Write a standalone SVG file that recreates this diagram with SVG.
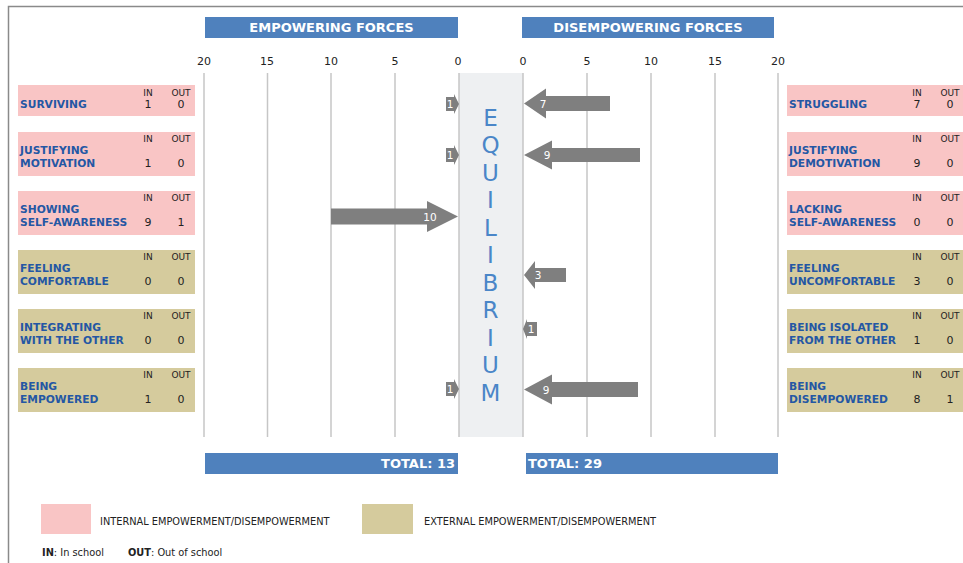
<svg xmlns="http://www.w3.org/2000/svg" width="963" height="563" viewBox="0 0 963 563">
<style>
  .lbl{font-family:"DejaVu Sans",Verdana,sans-serif;font-weight:bold;font-size:10.7px;fill:#2457a4}
  .hd{font-family:"DejaVu Sans",Tahoma,sans-serif;font-size:9px;fill:#222;text-anchor:middle}
  .val{font-family:"DejaVu Sans",Tahoma,sans-serif;font-size:11px;fill:#222;text-anchor:middle}
  .int{fill:#f9c5c5}
  .ext{fill:#d5cb9d}
  .bar{fill:#4f81bd}
  .bart{font-family:"DejaVu Sans",Verdana,sans-serif;font-weight:bold;font-size:13px;fill:#fff}
  .ax{font-family:"DejaVu Sans",Tahoma,sans-serif;font-size:11px;fill:#222;text-anchor:middle}
  .grid{stroke:#c6c6c6;stroke-width:1.5}
  .eq{font-family:"DejaVu Sans",Verdana,sans-serif;font-size:23px;fill:#4a86c8;text-anchor:middle}
  .arr{fill:#7f7f7f}
  .at{font-family:"DejaVu Sans",Tahoma,sans-serif;font-size:10.5px;fill:#fff;text-anchor:middle}
  .leg{font-family:"DejaVu Sans",Tahoma,sans-serif;font-size:9.8px;fill:#222}
</style>
<rect x="0" y="0" width="963" height="563" fill="#fff"/>
<path d="M8.5,563 V6.5 H963" fill="none" stroke="#8a8a8a" stroke-width="1.5"/>

<g id="headers">
  <rect class="bar" x="205" y="17" width="253" height="21"/>
  <text class="bart" x="331.5" y="32" text-anchor="middle">EMPOWERING FORCES</text>
  <rect class="bar" x="522" y="17" width="252" height="21"/>
  <text class="bart" x="648" y="32" text-anchor="middle">DISEMPOWERING FORCES</text>
</g>

<g id="axis">
  <text class="ax" x="204" y="65">20</text>
  <text class="ax" x="267" y="65">15</text>
  <text class="ax" x="331" y="65">10</text>
  <text class="ax" x="395" y="65">5</text>
  <text class="ax" x="458" y="65">0</text>
  <text class="ax" x="523" y="65">0</text>
  <text class="ax" x="587" y="65">5</text>
  <text class="ax" x="651" y="65">10</text>
  <text class="ax" x="715" y="65">15</text>
  <text class="ax" x="778" y="65">20</text>
</g>

<g id="equilibrium">
  <rect x="459" y="73" width="64" height="364" fill="#eef0f2"/>
  <text class="eq" x="490.5" y="125.5">E</text>
  <text class="eq" x="490.5" y="153">Q</text>
  <text class="eq" x="490.5" y="180.5">U</text>
  <text class="eq" x="490.5" y="208">I</text>
  <text class="eq" x="490.5" y="235.5">L</text>
  <text class="eq" x="490.5" y="263">I</text>
  <text class="eq" x="490.5" y="290.5">B</text>
  <text class="eq" x="490.5" y="318">R</text>
  <text class="eq" x="490.5" y="345.5">I</text>
  <text class="eq" x="490.5" y="373">U</text>
  <text class="eq" x="490.5" y="400.5">M</text>
</g>

<g id="grid">
  <line class="grid" x1="204" y1="73" x2="204" y2="437"/>
  <line class="grid" x1="267.5" y1="73" x2="267.5" y2="437"/>
  <line class="grid" x1="331" y1="73" x2="331" y2="437"/>
  <line class="grid" x1="395" y1="73" x2="395" y2="437"/>
  <line class="grid" x1="459" y1="73" x2="459" y2="437" stroke="#a8a8a8"/>
  <line class="grid" x1="523" y1="73" x2="523" y2="437" stroke="#a8a8a8"/>
  <line class="grid" x1="587" y1="73" x2="587" y2="437"/>
  <line class="grid" x1="651" y1="73" x2="651" y2="437"/>
  <line class="grid" x1="715" y1="73" x2="715" y2="437"/>
  <line class="grid" x1="778" y1="73" x2="778" y2="437"/>
</g>

<g id="connectors">
  <polygon class="arr" points="446,97 454,97 454,94 459,104 454,114 454,111 446,111"/>
  <text class="at" x="450" y="108">1</text>
  <polygon class="arr" points="446,148 454,148 454,145 459,155 454,165 454,162 446,162"/>
  <text class="at" x="450" y="159">1</text>
  <polygon class="arr" points="331,208.5 427,208.5 427,201 458,216.5 427,232 427,224.5 331,224.5"/>
  <text class="at" x="430" y="220.5">10</text>
  <polygon class="arr" points="446,382 454,382 454,379 459,389 454,399 454,396 446,396"/>
  <text class="at" x="450" y="393">1</text>

  <polygon class="arr" points="610,96 546,96 546,88.5 524,103.5 546,118.5 546,111 610,111"/>
  <text class="at" x="543" y="107.5">7</text>
  <polygon class="arr" points="640,148 552,148 552,140.5 524,155 552,169.5 552,162 640,162"/>
  <text class="at" x="547" y="159">9</text>
  <polygon class="arr" points="566,268 535,268 535,261 524,275 535,289 535,282 566,282"/>
  <text class="at" x="538" y="279">3</text>
  <polygon class="arr" points="537,322 527,322 527,319 523,329 527,339 527,336 537,336"/>
  <text class="at" x="531" y="333">1</text>
  <polygon class="arr" points="638,382 552,382 552,374.5 524,389.5 552,404.5 552,397 638,397"/>
  <text class="at" x="546" y="393.5">9</text>
</g>

<g id="totals">
  <rect class="bar" x="205" y="453" width="253" height="21"/>
  <text class="bart" x="455" y="468" text-anchor="end">TOTAL: 13</text>
  <rect class="bar" x="526" y="453" width="252" height="21"/>
  <text class="bart" x="528" y="468">TOTAL: 29</text>
</g>

<g id="surviving">
  <rect class="int" x="18" y="85" width="177" height="31"/>
  <text class="hd" x="148" y="95.5">IN</text><text class="hd" x="181" y="95.5">OUT</text>
  <text class="lbl" x="20" y="108">SURVIVING</text>
  <text class="val" x="148" y="108">1</text><text class="val" x="181" y="108">0</text>
</g>
<g id="justifying-motivation">
  <rect class="int" x="18" y="132" width="177" height="44"/>
  <text class="hd" x="148" y="141.5">IN</text><text class="hd" x="181" y="141.5">OUT</text>
  <text class="lbl" x="20" y="154">JUSTIFYING</text>
  <text class="lbl" x="20" y="167">MOTIVATION</text>
  <text class="val" x="148" y="167">1</text><text class="val" x="181" y="167">0</text>
</g>
<g id="showing-self-awareness">
  <rect class="int" x="18" y="191" width="177" height="44"/>
  <text class="hd" x="148" y="200.5">IN</text><text class="hd" x="181" y="200.5">OUT</text>
  <text class="lbl" x="20" y="213">SHOWING</text>
  <text class="lbl" x="20" y="226">SELF-AWARENESS</text>
  <text class="val" x="148" y="226">9</text><text class="val" x="181" y="226">1</text>
</g>
<g id="feeling-comfortable">
  <rect class="ext" x="18" y="250" width="177" height="44"/>
  <text class="hd" x="148" y="259.5">IN</text><text class="hd" x="181" y="259.5">OUT</text>
  <text class="lbl" x="20" y="272">FEELING</text>
  <text class="lbl" x="20" y="285">COMFORTABLE</text>
  <text class="val" x="148" y="285">0</text><text class="val" x="181" y="285">0</text>
</g>
<g id="integrating">
  <rect class="ext" x="18" y="309" width="177" height="44"/>
  <text class="hd" x="148" y="318.5">IN</text><text class="hd" x="181" y="318.5">OUT</text>
  <text class="lbl" x="20" y="331">INTEGRATING</text>
  <text class="lbl" x="20" y="344">WITH THE OTHER</text>
  <text class="val" x="148" y="344">0</text><text class="val" x="181" y="344">0</text>
</g>
<g id="being-empowered">
  <rect class="ext" x="18" y="368" width="177" height="44"/>
  <text class="hd" x="148" y="377.5">IN</text><text class="hd" x="181" y="377.5">OUT</text>
  <text class="lbl" x="20" y="390">BEING</text>
  <text class="lbl" x="20" y="403">EMPOWERED</text>
  <text class="val" x="148" y="403">1</text><text class="val" x="181" y="403">0</text>
</g>

<g id="struggling">
  <rect class="int" x="787" y="85" width="177" height="31"/>
  <text class="hd" x="917" y="95.5">IN</text><text class="hd" x="950" y="95.5">OUT</text>
  <text class="lbl" x="789" y="108">STRUGGLING</text>
  <text class="val" x="917" y="108">7</text><text class="val" x="950" y="108">0</text>
</g>
<g id="justifying-demotivation">
  <rect class="int" x="787" y="132" width="177" height="44"/>
  <text class="hd" x="917" y="141.5">IN</text><text class="hd" x="950" y="141.5">OUT</text>
  <text class="lbl" x="789" y="154">JUSTIFYING</text>
  <text class="lbl" x="789" y="167">DEMOTIVATION</text>
  <text class="val" x="917" y="167">9</text><text class="val" x="950" y="167">0</text>
</g>
<g id="lacking-self-awareness">
  <rect class="int" x="787" y="191" width="177" height="44"/>
  <text class="hd" x="917" y="200.5">IN</text><text class="hd" x="950" y="200.5">OUT</text>
  <text class="lbl" x="789" y="213">LACKING</text>
  <text class="lbl" x="789" y="226">SELF-AWARENESS</text>
  <text class="val" x="917" y="226">0</text><text class="val" x="950" y="226">0</text>
</g>
<g id="feeling-uncomfortable">
  <rect class="ext" x="787" y="250" width="177" height="44"/>
  <text class="hd" x="917" y="259.5">IN</text><text class="hd" x="950" y="259.5">OUT</text>
  <text class="lbl" x="789" y="272">FEELING</text>
  <text class="lbl" x="789" y="285">UNCOMFORTABLE</text>
  <text class="val" x="917" y="285">3</text><text class="val" x="950" y="285">0</text>
</g>
<g id="being-isolated">
  <rect class="ext" x="787" y="309" width="177" height="44"/>
  <text class="hd" x="917" y="318.5">IN</text><text class="hd" x="950" y="318.5">OUT</text>
  <text class="lbl" x="789" y="331">BEING ISOLATED</text>
  <text class="lbl" x="789" y="344">FROM THE OTHER</text>
  <text class="val" x="917" y="344">1</text><text class="val" x="950" y="344">0</text>
</g>
<g id="being-disempowered">
  <rect class="ext" x="787" y="368" width="177" height="44"/>
  <text class="hd" x="917" y="377.5">IN</text><text class="hd" x="950" y="377.5">OUT</text>
  <text class="lbl" x="789" y="390">BEING</text>
  <text class="lbl" x="789" y="403">DISEMPOWERED</text>
  <text class="val" x="917" y="403">8</text><text class="val" x="950" y="403">1</text>
</g>

<g id="legend">
  <rect class="int" x="41" y="504" width="50" height="30"/>
  <text class="leg" x="100" y="525">INTERNAL EMPOWERMENT/DISEMPOWERMENT</text>
  <rect class="ext" x="362" y="504" width="51" height="30"/>
  <text class="leg" x="424" y="525">EXTERNAL EMPOWERMENT/DISEMPOWERMENT</text>
  <text class="leg" x="42" y="556"><tspan font-weight="bold">IN</tspan>: In school</text>
  <text class="leg" x="128" y="556"><tspan font-weight="bold">OUT</tspan>: Out of school</text>
</g>
</svg>
